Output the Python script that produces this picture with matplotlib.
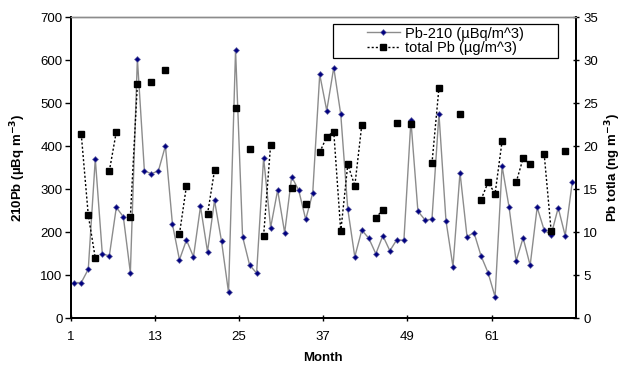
import numpy as np
import matplotlib
matplotlib.use('Agg')
import matplotlib.pyplot as plt
from matplotlib.patches import Rectangle

plt.rcParams['font.family'] = ['Liberation Sans', 'DejaVu Sans']

# monthly values (72 months)
months = np.arange(1, 73)
pb210 = [83, 83, 114, 371, 150, 145, 258, 236, 106, 604,
         343, 336, 343, 401, 219, 136, 182, 143, 260, 155,
         274, 179, 60, 624, 190, 124, 105, 373, 211, 298,
         199, 329, 298, 230, 291, 567, 483, 583, 474, 254,
         143, 205, 186, 150, 192, 157, 183, 181, 460, 249,
         229, 230, 475, 227, 120, 339, 190, 199, 145, 106,
         50, 354, 258, 133, 187, 123, 258, 205, 194, 257,
         192, 316]

# total Pb only measured in some months
total_pb_months = [2, 3, 4, 6, 7, 9, 10, 12, 14, 16, 17, 20, 21, 24, 26, 28, 29,
                   32, 34, 36, 37, 38, 39, 40, 41, 42, 44, 45, 47, 49, 52, 53,
                   56, 59, 60, 61, 62, 64, 65, 66, 68, 69, 71]
total_pb_vals = [21.4, 12.0, 7.0, 17.1, 21.7, 11.8, 27.2, 27.5, 28.9, 9.8, 15.4,
                 12.1, 17.2, 24.5, 19.7, 9.6, 20.2, 15.1, 13.3, 19.3, 21.1, 21.7,
                 10.1, 17.9, 15.4, 22.5, 11.7, 12.6, 22.7, 22.6, 18.0, 26.8, 23.7,
                 13.8, 15.8, 14.5, 20.6, 15.8, 18.6, 17.9, 19.1, 10.1, 19.4]

tick_months = [1, 13, 25, 37, 49, 61]

total_pb = np.full(len(months), np.nan)
for m, v in zip(total_pb_months, total_pb_vals):
    total_pb[m - 1] = v

# category axis: each month sits in the middle of its slot
xpos = months - 0.5
fs = 9.5

fig = plt.figure(figsize=(6.26, 3.67), dpi=100)
ax = fig.add_axes([0.113, 0.1327, 0.8067, 0.8203])
ax2 = ax.twinx()

l1, = ax.plot(xpos, pb210, color='#8c8c8c', lw=1.0, marker='D', ms=3,
              mfc='#000080', mec='#6f6fa8', mew=0.5, label='Pb-210 (µBq/m^3)')
l2, = ax2.plot(xpos, total_pb, color='black', lw=1.0, ls=(0, (1.5, 1.5)),
               marker='s', ms=5, mfc='black', mec='black',
               label='total Pb (µg/m^3)')

ax.set_xlim(0, 72)
ax.set_ylim(0, 700)
ax2.set_ylim(0, 35)
ax.set_xticks([m - 1 for m in tick_months])
ax.set_xticklabels([str(m) for m in tick_months])
ax.set_yticks(np.arange(0, 701, 100))
ax2.set_yticks(np.arange(0, 36, 5))

for a in (ax, ax2):
    a.tick_params(direction='inout', length=5, width=1, labelsize=fs, pad=3)
    for s in ('left', 'right', 'bottom'):
        a.spines[s].set_linewidth(1.3)
    a.spines['top'].set_color('#8c8c8c')
    a.spines['top'].set_linewidth(1.0)

ax.tick_params(axis='y', direction='out', length=4, pad=2)
ax.tick_params(axis='x', pad=7)
ax.set_xlabel('Month', fontsize=fs, fontweight='bold', labelpad=6)
ax.set_ylabel('210Pb (µBq m$^{\\mathbf{-3}}$)', fontsize=fs, fontweight='bold', labelpad=9)
ax2.set_ylabel('Pb totla (ng m$^{\\mathbf{-3}}$)', fontsize=fs, fontweight='bold', labelpad=4)

# legend box like the spreadsheet one: content centred inside a wider frame
fig.patches.append(Rectangle((0.532, 0.842), 0.359, 0.093, transform=fig.transFigure,
                             fill=True, facecolor='white', edgecolor='black', lw=0.9,
                             zorder=5))
leg = fig.legend([l1, l2], [l1.get_label(), l2.get_label()], loc='center',
                 bbox_to_anchor=(0.7115, 0.8885), fontsize=10.5, frameon=False,
                 handlelength=2.3, borderpad=0.0, labelspacing=0.05,
                 handletextpad=0.35, borderaxespad=0)
leg.set_zorder(6)

fig.savefig('out.png', dpi=100)
